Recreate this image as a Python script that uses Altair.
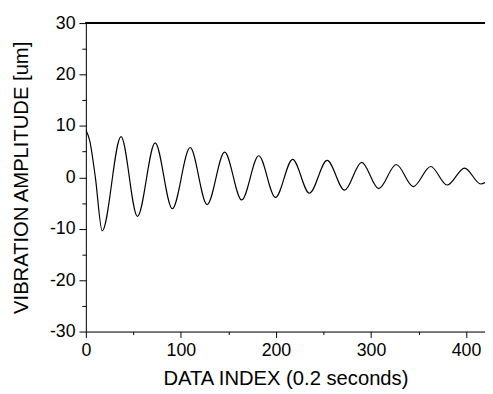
import altair as alt
import pandas as pd

# Key points (peaks, troughs, start region)
x_idx = [0, 4, 10, 17.2, 37.0, 54.3, 72.9, 91.0, 109.7, 127.6, 146.0, 164.0, 181.9,
         199.5, 217.6, 235.2, 253.9, 272.2, 290.2, 308.2, 326.6, 344.5, 362.9,
         380.1, 398.5, 415.5, 420]
amp = [9.2, 7.2, 0.0, -10.4, 7.9, -7.6, 6.7, -6.1, 5.8, -5.3, 4.9, -4.4, 4.2,
       -3.9, 3.5, -3.1, 3.3, -2.5, 2.9, -2.2, 2.5, -1.8, 2.1,
       -1.5, 1.8, -1.3, -1.0]

x_ticks = [0, 50, 100, 150, 200, 250, 300, 350, 400]
y_ticks = [-30, -25, -20, -15, -10, -5, 0, 5, 10, 15, 20, 25, 30]

df = pd.DataFrame({"x": x_idx, "y": amp})

FONT = "Liberation Sans"
W, H = 405, 313

x_axis = alt.Axis(
    title="DATA INDEX (0.2 seconds)",
    values=x_ticks,
    labelExpr="datum.value % 100 === 0 ? '' + datum.value : ''",
    tickSize={"condition": {"test": "datum.value % 100 === 0", "value": 6}, "value": 3},
    grid=False, domainColor="black", tickColor="black", labelColor="black",
    titleColor="black", labelFont=FONT, titleFont=FONT, labelFontSize=18,
    titleFontSize=20.5, titleFontWeight="normal", labelPadding=4, titlePadding=10,
    labelFlush=False, labelOverlap=False,
)
y_axis = alt.Axis(
    title="VIBRATION AMPLITUDE [um]",
    values=y_ticks,
    labelExpr="datum.value % 10 === 0 ? '' + datum.value : ''",
    tickSize={"condition": {"test": "datum.value % 10 === 0", "value": 7}, "value": 4},
    grid=False, domainColor="black", tickColor="black", labelColor="black",
    titleColor="black", labelFont=FONT, titleFont=FONT, labelFontSize=18,
    titleFontSize=20.5, titleFontWeight="normal", labelPadding=4, titlePadding=18,
    labelFlush=False, labelOverlap=False,
)

line = alt.Chart(df).mark_line(
    color="black", strokeWidth=1.2, interpolate="monotone", clip=True
).encode(
    x=alt.X("x:Q", scale=alt.Scale(domain=[0, 420], nice=False, zero=False), axis=x_axis),
    y=alt.Y("y:Q", scale=alt.Scale(domain=[-30, 30], nice=False), axis=y_axis),
)

top = alt.Chart(df).mark_rule(color="black", strokeWidth=1).encode(
    x=alt.value(0), x2=alt.value(W), y=alt.value(0)
)

chart = alt.layer(line, top).properties(
    width=W, height=H,
    autosize=alt.AutoSizeParams(type="none"),
    padding={"left": 79, "top": 12.5, "right": 0, "bottom": 57},
).configure_view(stroke=None).configure(background="white")

chart.save("out.html", embed_options={"renderer": "svg", "actions": False})
